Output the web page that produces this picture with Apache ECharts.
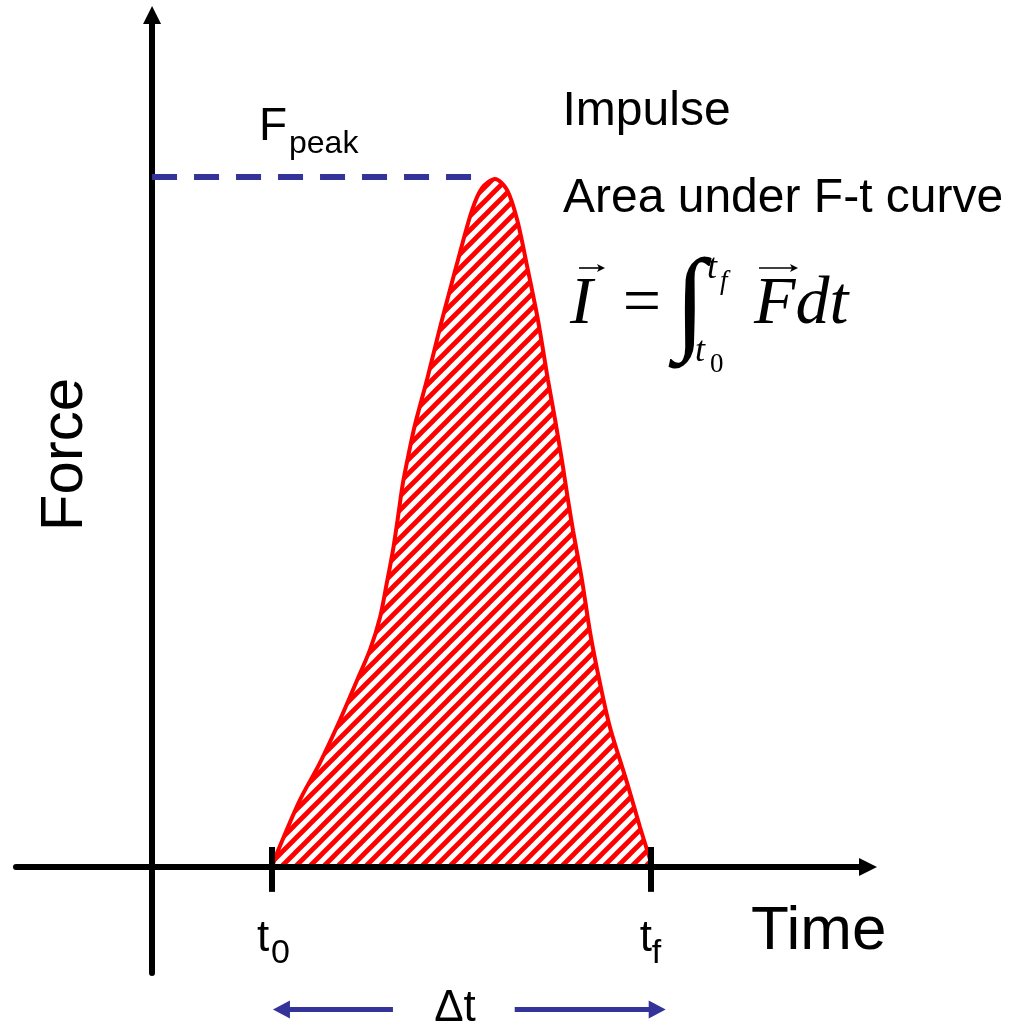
<!DOCTYPE html>
<html><head><meta charset="utf-8">
<script src="https://cdn.jsdelivr.net/npm/echarts@6/dist/echarts.min.js"></script>
<style>html,body{margin:0;padding:0;background:#fff}#c{width:1026px;height:1025px}</style>
</head><body><div id="c"></div>
<script>
// ---- data (time in arbitrary units, force in % of peak) ----
const timeValues  = [3.35, 3.49, 4.13, 4.69, 5.25, 5.73, 6.09, 6.37, 6.56, 6.73, 6.87, 7.01, 7.19, 7.34, 7.68, 8.05, 8.32, 8.60, 8.94, 9.22, 9.58, 9.92, 10.20, 10.48, 10.78, 11.06, 11.26, 11.46, 11.62, 11.76, 12.01, 12.24, 12.51, 12.79, 13.27, 13.63, 13.98];
const forceValues = [0, 2.0, 9.7, 15.1, 21.3, 27.1, 31.5, 36.2, 41.2, 45.9, 50.7, 55.7, 60.4, 64.0, 70.6, 78.3, 83.6, 89.0, 95.2, 98.4, 99.7, 98.1, 93.8, 87.0, 79.3, 70.6, 64.8, 58.6, 53.2, 48.8, 41.6, 33.9, 26.7, 20.3, 12.2, 5.8, 0];
const t0 = 3.35, tf = 13.93;          // start / end of contact
const fPeak = 100;                    // peak force
const dashEndTime = 9.05;             // where the dashed peak guide stops
const tickRange = [2.9, -3.6];        // extent of the t0 / tf tick marks
const xRange = [-3.8, 20];
const yRange = [-15.36, 123.48];

const curveData = timeValues.map((t, i) => [t, forceValues[i]]);

function hatch() {
  const s = 14, c = document.createElement('canvas');
  c.width = s; c.height = s;
  const g = c.getContext('2d');
  g.fillStyle = '#ffffff'; g.fillRect(0, 0, s, s);
  g.strokeStyle = '#ff0000'; g.lineWidth = 4.8;
  g.beginPath();
  g.moveTo(0, s); g.lineTo(s, 0);
  g.moveTo(-s / 2, s / 2); g.lineTo(s / 2, -s / 2);
  g.moveTo(s / 2, s * 1.5); g.lineTo(s * 1.5, s / 2);
  g.stroke();
  return c;
}

const chart = echarts.init(document.getElementById('c'), null, {renderer: 'canvas'});
const axisCommon = {
  type: 'value', z: 3,
  axisLabel: {show: false}, axisTick: {show: false}, splitLine: {show: false},
  axisLine: {show: true, onZero: true, symbol: ['none', 'triangle'], symbolSize: [18, 18],
             lineStyle: {color: '#000', width: 6}}
};
chart.setOption({
  animation: false,
  backgroundColor: '#fff',
  grid: {left: 16, right: 158, top: 15, bottom: 52, containLabel: false, outerBoundsMode: 'none'},
  xAxis: Object.assign({}, axisCommon, {min: xRange[0], max: xRange[1]}),
  yAxis: Object.assign({}, axisCommon, {min: yRange[0], max: yRange[1]}),
  series: [{
    type: 'line', data: curveData, smooth: 0.3, showSymbol: false, silent: true,
    lineStyle: {color: '#ff0000', width: 4},
    areaStyle: {color: {image: hatch(), repeat: 'repeat'}, opacity: 1},
    markLine: {
      silent: true, symbol: 'none', animation: false, label: {show: false},
      data: [
        [{coord: [t0, tickRange[0]], lineStyle: {color: '#000', width: 6, type: 'solid'}}, {coord: [t0, tickRange[1]]}],
        [{coord: [tf, tickRange[0]], lineStyle: {color: '#000', width: 6, type: 'solid'}}, {coord: [tf, tickRange[1]]}],
        [{coord: [0, fPeak], lineStyle: {color: '#333399', width: 6, type: [25, 17]}}, {coord: [dashEndTime, fPeak]}]
      ]
    }
  }]
});

// ---- annotations ----
const P = (t, f) => chart.convertToPixel({gridIndex: 0}, [t, f]);
const pT0 = P(t0, 0), pTf = P(tf, 0), pPeak = P(0, fPeak);
const sans = 'Liberation Sans, Arial, sans-serif';
const serif = 'Liberation Serif, Times New Roman, serif';
function txt(x, y, text, size, opt) {
  opt = opt || {};
  return {type: 'text', x: x, y: y, rotation: opt.rotation || 0, silent: true, z: 10,
    style: {text: text, fontSize: size, fontFamily: opt.family || sans, fontStyle: opt.italic ? 'italic' : 'normal',
            fontWeight: opt.bold ? 'bold' : 'normal',
            fill: opt.color || '#000', align: opt.align || 'left', verticalAlign: 'middle'}};
}
// baseline -> middle y
const mid = (base, size) => base - 0.36 * size;
const smid = (base, size) => base - 0.305 * size;
const blue = '#333399';
const ay = pT0[1] + 142.5;
function arrowHead(tipX, y, dir) {
  return {type: 'polygon', silent: true, z: 10, shape: {points: [[tipX, y], [tipX - dir * 17, y - 9], [tipX - dir * 17, y + 9]]}, style: {fill: blue}};
}
function vecArrow(x1, x2, y) {
  return [
    {type: 'line', silent: true, z: 10, shape: {x1: x1, y1: y, x2: x2 - 4, y2: y}, style: {stroke: '#000', lineWidth: 1.6}},
    {type: 'polygon', silent: true, z: 10, shape: {points: [[x2, y], [x2 - 8, y - 4], [x2 - 6, y], [x2 - 8, y + 4]]}, style: {fill: '#000'}}
  ];
}
const graphics = [
  txt(562.5, mid(129, 48), 'Impulse', 48),
  txt(563, mid(216, 48), 'Area under F-t curve', 48),
  txt(65, 454.5, 'Force', 60, {rotation: Math.PI / 2, align: 'center'}),
  txt(751, mid(954, 62), 'Time', 62),
  // F_peak
  txt(259, mid(pPeak[1] - 33, 46), 'F', 46),
  txt(289, mid(pPeak[1] - 21, 32), 'peak', 32),
  // t0, tf
  txt(pT0[0] - 15, mid(955, 44), 't', 44),
  txt(pT0[0] - 1, mid(966, 34), '0', 34),
  txt(pTf[0] - 11, mid(955, 44), 't', 44),
  txt(pTf[0] + 1, mid(966, 34), 'f', 34),
  // delta t
  txt(455, mid(1024.5, 44), 'Δt', 44, {align: 'center'}),
  {type: 'line', silent: true, z: 10, shape: {x1: pT0[0] + 14, y1: ay, x2: pT0[0] + 121, y2: ay}, style: {stroke: blue, lineWidth: 5}},
  arrowHead(pT0[0] + 1, ay, -1),
  {type: 'line', silent: true, z: 10, shape: {x1: pTf[0] - 136, y1: ay, x2: pTf[0] + 2, y2: ay}, style: {stroke: blue, lineWidth: 5}},
  arrowHead(pTf[0] + 15, ay, 1),
  // formula
  txt(570, smid(326, 68), 'I', 68, {family: serif, italic: true}),
  txt(642, smid(326, 68), '=', 68, {family: serif, align: 'center'}),
  txt(690, 308.5, '∫', 114, {family: serif, align: 'center', bold: true}),
  txt(707, smid(280, 36), 't', 36, {family: serif, italic: true}),
  txt(720, smid(290, 27), 'f', 27, {family: serif, italic: true}),
  txt(695, smid(363, 36), 't', 36, {family: serif, italic: true}),
  txt(710, smid(373, 27), '0', 27, {family: serif}),
  txt(754, smid(326, 68), 'Fdt', 68, {family: serif, italic: true})
].concat(vecArrow(579, 605, 268), vecArrow(759, 798, 268));
chart.setOption({graphic: {elements: graphics}});
</script></body></html>
